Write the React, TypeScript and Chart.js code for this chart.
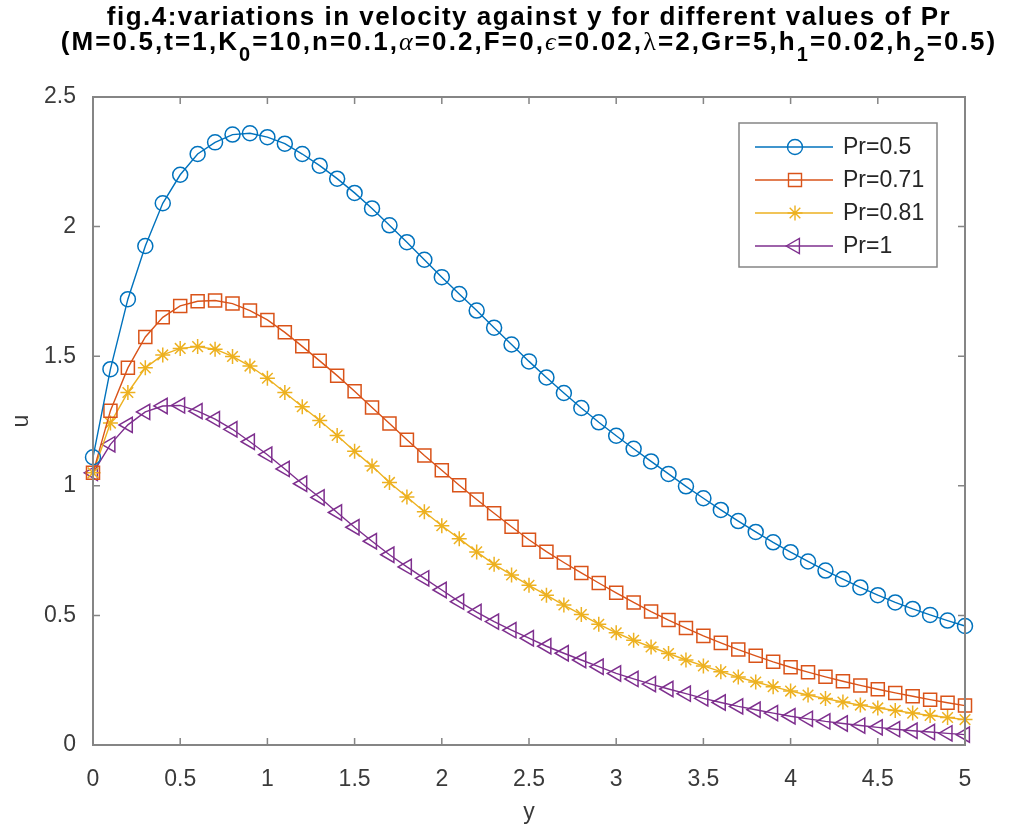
import React, { useEffect, useRef } from 'react';
import { Chart, registerables } from 'chart.js';

Chart.register(...registerables);

// ---------- data ----------
const yCoord = [
  0, 0.1, 0.2, 0.3, 0.4, 0.5, 0.6, 0.7, 0.8, 0.9,
  1, 1.1, 1.2, 1.3, 1.4, 1.5, 1.6, 1.7, 1.8, 1.9,
  2, 2.1, 2.2, 2.3, 2.4, 2.5, 2.6, 2.7, 2.8, 2.9,
  3, 3.1, 3.2, 3.3, 3.4, 3.5, 3.6, 3.7, 3.8, 3.9,
  4, 4.1, 4.2, 4.3, 4.4, 4.5, 4.6, 4.7, 4.8, 4.9, 5,
];

const uPr05 = [
  1.11, 1.45, 1.72, 1.925, 2.09, 2.2, 2.28, 2.325, 2.355, 2.36,
  2.345, 2.32, 2.28, 2.235, 2.185, 2.13, 2.07, 2.005, 1.94, 1.872,
  1.805, 1.74, 1.676, 1.61, 1.545, 1.48, 1.418, 1.358, 1.3, 1.245,
  1.193, 1.143, 1.094, 1.046, 0.998, 0.952, 0.907, 0.864, 0.822, 0.782,
  0.744, 0.708, 0.673, 0.64, 0.608, 0.578, 0.55, 0.525, 0.502, 0.48, 0.459,
];

const uPr071 = [
  1.05, 1.29, 1.455, 1.574, 1.65, 1.694, 1.712, 1.715, 1.703, 1.676,
  1.64, 1.592, 1.538, 1.482, 1.425, 1.365, 1.302, 1.24, 1.178, 1.117,
  1.06, 1.002, 0.947, 0.894, 0.842, 0.792, 0.746, 0.704, 0.664, 0.625,
  0.587, 0.55, 0.515, 0.482, 0.451, 0.421, 0.394, 0.368, 0.344, 0.321,
  0.3, 0.281, 0.263, 0.246, 0.23, 0.215, 0.201, 0.188, 0.175, 0.163, 0.152,
];

const uPr081 = [
  1.05, 1.242, 1.36, 1.455, 1.505, 1.53, 1.537, 1.527, 1.499, 1.462,
  1.415, 1.36, 1.305, 1.252, 1.194, 1.133, 1.076, 1.013, 0.957, 0.9,
  0.846, 0.796, 0.745, 0.697, 0.656, 0.616, 0.578, 0.54, 0.503, 0.466,
  0.433, 0.404, 0.378, 0.353, 0.328, 0.305, 0.283, 0.262, 0.243, 0.225,
  0.208, 0.193, 0.179, 0.166, 0.154, 0.143, 0.133, 0.123, 0.114, 0.106, 0.098,
];

const uPr1 = [
  1.05, 1.16, 1.235, 1.285, 1.308, 1.31, 1.288, 1.257, 1.218, 1.17,
  1.12, 1.065, 1.008, 0.955, 0.897, 0.84, 0.786, 0.734, 0.687, 0.643,
  0.598, 0.553, 0.513, 0.476, 0.443, 0.412, 0.381, 0.354, 0.328, 0.302,
  0.276, 0.255, 0.235, 0.216, 0.198, 0.18, 0.164, 0.149, 0.136, 0.123,
  0.111, 0.101, 0.091, 0.083, 0.075, 0.068, 0.061, 0.055, 0.05, 0.045, 0.04,
];

const seriesLabels = ['Pr=0.5', 'Pr=0.71', 'Pr=0.81', 'Pr=1'];
const xTicks = [0, 0.5, 1, 1.5, 2, 2.5, 3, 3.5, 4, 4.5, 5];
const xTickLabels = ['0', '0.5', '1', '1.5', '2', '2.5', '3', '3.5', '4', '4.5', '5'];
const yTicks = [0, 0.5, 1, 1.5, 2, 2.5];
const yTickLabels = ['0', '0.5', '1', '1.5', '2', '2.5'];

const titleLine1 = 'fig.4:variations in velocity against y for different values of Pr';
const titleLine2: { t: string; k?: 'sub' | 'greek' | 'greekUp' }[] = [
  { t: '(M=0.5,t=1,K' }, { t: '0', k: 'sub' }, { t: '=10,n=0.1,' },
  { t: 'α', k: 'greek' }, { t: '=0.2,F=0,' }, { t: 'ϵ', k: 'greek' },
  { t: '=0.02,' }, { t: 'λ', k: 'greekUp' }, { t: '=2,Gr=5,h' }, { t: '1', k: 'sub' },
  { t: '=0.02,h' }, { t: '2', k: 'sub' }, { t: '=0.5)' },
];
const xAxisTitle = 'y';
const yAxisTitle = 'u';

// ---------- styles ----------
const SANS = '"Liberation Sans", Arial, Helvetica, sans-serif';
const SERIF = '"Liberation Serif", "Times New Roman", serif';
const AXIS_COLOR = '#858585';
const TEXT_COLOR = '#3a3a3a';

const seriesStyles = [
  { color: '#0072BD', style: 'circle', radius: 7.5, rotation: 0 },
  { color: '#D95319', style: 'rect', radius: 9.2, rotation: 0 },
  { color: '#EDB120', style: 'star', radius: 7.5, rotation: 0 },
  { color: '#7E2F8E', style: 'triangle', radius: 8.8, rotation: -90 },
];

function drawMarker(ctx: CanvasRenderingContext2D, style: string, x: number, y: number, r: number) {
  ctx.beginPath();
  if (style === 'circle') {
    ctx.arc(x, y, r, 0, Math.PI * 2);
  } else if (style === 'rect') {
    const s = Math.SQRT1_2 * r;
    ctx.rect(x - s, y - s, 2 * s, 2 * s);
  } else if (style === 'star') {
    for (let k = 0; k < 4; k++) {
      const a = (k * Math.PI) / 4;
      ctx.moveTo(x - Math.cos(a) * r, y - Math.sin(a) * r);
      ctx.lineTo(x + Math.cos(a) * r, y + Math.sin(a) * r);
    }
  } else if (style === 'triangle') {
    let rad = -Math.PI / 2;
    ctx.moveTo(x + Math.sin(rad) * r, y - Math.cos(rad) * r);
    rad += (2 * Math.PI) / 3;
    ctx.lineTo(x + Math.sin(rad) * r, y - Math.cos(rad) * r);
    rad += (2 * Math.PI) / 3;
    ctx.lineTo(x + Math.sin(rad) * r, y - Math.cos(rad) * r);
    ctx.closePath();
  }
  ctx.stroke();
}

const boxPlugin = {
  id: 'matlabBox',
  afterDatasetsDraw(chart: any) {
    const { ctx, chartArea: a, scales } = chart;
    const TL = 7;
    ctx.save();
    ctx.strokeStyle = AXIS_COLOR;
    ctx.lineWidth = 1.5;
    ctx.beginPath();
    scales.x.ticks.forEach((t: any) => {
      const px = scales.x.getPixelForValue(t.value);
      ctx.moveTo(px, a.bottom);
      ctx.lineTo(px, a.bottom - TL);
      ctx.moveTo(px, a.top);
      ctx.lineTo(px, a.top + TL);
    });
    scales.y.ticks.forEach((t: any) => {
      const py = scales.y.getPixelForValue(t.value);
      ctx.moveTo(a.left, py);
      ctx.lineTo(a.left + TL, py);
      ctx.moveTo(a.right, py);
      ctx.lineTo(a.right - TL, py);
    });
    ctx.stroke();
    ctx.lineWidth = 2;
    ctx.strokeRect(a.left, a.top, a.right - a.left, a.bottom - a.top);
    ctx.restore();
  },
};

const legendPlugin = {
  id: 'matlabLegend',
  afterDraw(chart: any) {
    const { ctx, chartArea: a } = chart;
    const w = 198, h = 144;
    const x0 = a.right - 28 - w;
    const y0 = a.top + 26;
    ctx.save();
    ctx.fillStyle = '#ffffff';
    ctx.fillRect(x0, y0, w, h);
    ctx.strokeStyle = AXIS_COLOR;
    ctx.lineWidth = 1.5;
    ctx.strokeRect(x0, y0, w, h);
    seriesLabels.forEach((label, i) => {
      const st = seriesStyles[i];
      const cy = y0 + 24 + i * 33;
      ctx.strokeStyle = st.color;
      ctx.lineWidth = 1.4;
      ctx.beginPath();
      ctx.moveTo(x0 + 16, cy);
      ctx.lineTo(x0 + 94, cy);
      ctx.stroke();
      drawMarker(ctx, st.style, x0 + 56, cy, st.radius);
      ctx.fillStyle = '#262626';
      ctx.font = `23px ${SANS}`;
      ctx.textAlign = 'left';
      ctx.textBaseline = 'middle';
      ctx.fillText(label, x0 + 104, cy + 1);
    });
    ctx.restore();
  },
};

const titlePlugin = {
  id: 'matlabTitle',
  afterDraw(chart: any) {
    const { ctx, chartArea: a } = chart;
    const cx = (a.left + a.right) / 2;
    ctx.save();
    ctx.fillStyle = '#000000';
    ctx.textAlign = 'left';
    ctx.textBaseline = 'alphabetic';
    (ctx as any).letterSpacing = '1.5px';
    ctx.font = `bold 26px ${SANS}`;
    const w1 = ctx.measureText(titleLine1).width;
    ctx.fillText(titleLine1, cx - w1 / 2, 25);
    (ctx as any).letterSpacing = '2.1px';
    const fontFor = (k?: string) =>
      k === 'sub' ? `bold 20px ${SANS}` : k === 'greek' ? `italic 26px ${SERIF}` : k === 'greekUp' ? `26px ${SERIF}` : `bold 26px ${SANS}`;
    let total = 0;
    const widths = titleLine2.map((p) => {
      ctx.font = fontFor(p.k);
      const ww = ctx.measureText(p.t).width;
      total += ww;
      return ww;
    });
    let x = cx - total / 2;
    titleLine2.forEach((p, i) => {
      ctx.font = fontFor(p.k);
      ctx.fillText(p.t, x, p.k === 'sub' ? 61 : 50);
      x += widths[i];
    });
    ctx.restore();
  },
};

export default function App() {
  const ref = useRef<HTMLCanvasElement | null>(null);

  useEffect(() => {
    if (!ref.current) return;
    const seriesValues = [uPr05, uPr071, uPr081, uPr1];
    const chart = new Chart(ref.current, {
      type: 'line',
      data: {
        datasets: seriesValues.map((vals, i) => {
          const st = seriesStyles[i];
          return {
            label: seriesLabels[i],
            data: yCoord.map((x, j) => ({ x, y: vals[j] })),
            borderColor: st.color,
            borderWidth: 1.4,
            pointStyle: st.style as any,
            pointRadius: st.radius,
            pointRotation: st.rotation,
            pointBorderColor: st.color,
            pointBackgroundColor: 'rgba(0,0,0,0)',
            pointBorderWidth: 1.5,
            pointHoverRadius: st.radius,
            fill: false,
            tension: 0,
            clip: false as any,
          };
        }),
      },
      options: {
        animation: false,
        responsive: false,
        devicePixelRatio: 1,
        events: [],
        layout: { padding: { left: 0, right: 45, top: 97, bottom: 0 } },
        plugins: {
          legend: { display: false },
          title: { display: false },
          tooltip: { enabled: false },
        },
        scales: {
          x: {
            type: 'linear',
            min: 0,
            max: 5,
            afterBuildTicks: (s: any) => {
              s.ticks = xTicks.map((v) => ({ value: v }));
            },
            afterFit: (s: any) => {
              s.height = 89;
            },
            ticks: {
              padding: 13,
              color: TEXT_COLOR,
              font: { family: SANS, size: 23 },
              maxRotation: 0,
              autoSkip: false,
              callback: (_v: any, i: number) => xTickLabels[i],
            },
            grid: { display: false },
            border: { display: false },
            title: {
              display: true,
              text: xAxisTitle,
              color: TEXT_COLOR,
              font: { family: SANS, size: 23 },
              padding: { top: 8, bottom: 8 },
            },
          },
          y: {
            type: 'linear',
            min: 0,
            max: 2.5,
            afterBuildTicks: (s: any) => {
              s.ticks = yTicks.map((v) => ({ value: v }));
            },
            afterFit: (s: any) => {
              s.width = 93;
            },
            ticks: {
              padding: 9,
              color: TEXT_COLOR,
              font: { family: SANS, size: 23 },
              autoSkip: false,
              callback: (_v: any, i: number) => yTickLabels[i],
            },
            grid: { display: false },
            border: { display: false },
            title: {
              display: true,
              text: yAxisTitle,
              color: TEXT_COLOR,
              font: { family: SANS, size: 23 },
              padding: { top: 8, bottom: 8 },
            },
          },
        },
      } as any,
      plugins: [boxPlugin, legendPlugin, titlePlugin],
    });
    return () => chart.destroy();
  }, []);

  return (
    <div style={{ position: 'absolute', left: 0, top: 0, width: 1010, height: 834, background: '#ffffff' }}>
      <canvas ref={ref} width={1010} height={834} style={{ display: 'block', width: 1010, height: 834 }} />
    </div>
  );
}
